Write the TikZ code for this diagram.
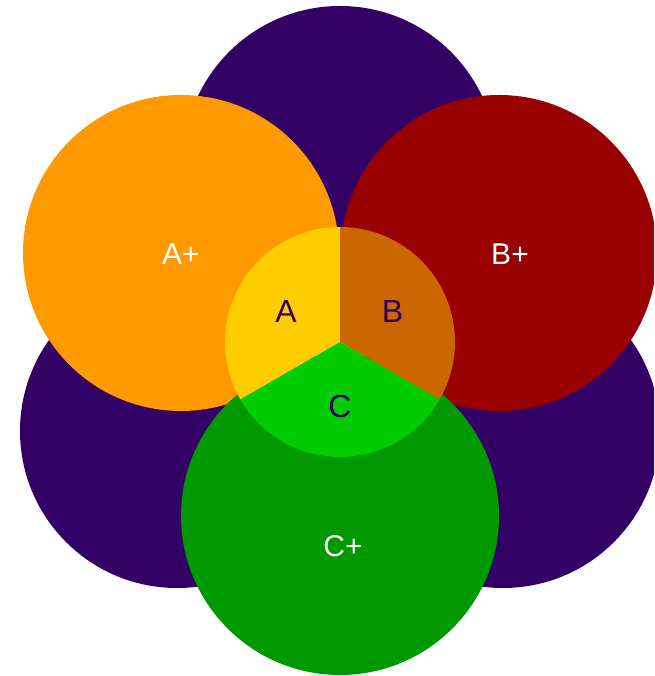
\documentclass[tikz,border=0pt]{standalone}
\usepackage{fontspec}
\setmainfont{Liberation Sans}
\definecolor{cPurple}{HTML}{330066}
\definecolor{cOrange}{HTML}{FF9900}
\definecolor{cRed}{HTML}{990000}
\definecolor{cGreen}{HTML}{009900}
\definecolor{cYellow}{HTML}{FFCC00}
\definecolor{cDarkOrange}{HTML}{CC6600}
\definecolor{cLime}{HTML}{00CC00}
\begin{document}
\begin{tikzpicture}[x=1pt,y=1pt,
  blob/.style={circle,inner sep=0pt,outer sep=0pt,draw=none},
  biglabel/.style={text=white,font=\fontsize{30}{36}\selectfont,inner sep=0pt},
  smalllabel/.style={text=cPurple,font=\fontsize{32}{38}\selectfont,inner sep=0pt}]
\useasboundingbox (0,0) rectangle (654,676);
\clip (0,0) rectangle (654,676);
% purple petals
\node[blob,fill=cPurple,minimum size=314pt] (ptop) at (340,513) {};
\node[blob,fill=cPurple,minimum size=314pt] (pleft) at (177,245) {};
\node[blob,fill=cPurple,minimum size=314pt] (pright) at (503,245) {};
% coloured circles
\node[blob,fill=cOrange,minimum size=316pt] (aplus) at (181,423) {};
\node[blob,fill=cRed,minimum size=316pt] (bplus) at (499,423) {};
\node[blob,fill=cGreen,minimum size=318pt] (cplus) at (340,160) {};
% centre circle with sectors
\node[blob,minimum size=230pt] (ctr) at (340,334) {};
\fill[cYellow] (ctr.center) -- (ctr.90) arc[start angle=90,end angle=210,radius=115pt] -- cycle;
\fill[cDarkOrange] (ctr.center) -- (ctr.-30) arc[start angle=-30,end angle=90,radius=115pt] -- cycle;
\fill[cLime] (ctr.center) -- (ctr.210) arc[start angle=210,end angle=330,radius=115pt] -- cycle;
% labels
\node[biglabel] (laplus) at (181,422) {A+};
\node[biglabel] (lbplus) at (510,422) {B+};
\node[biglabel] (lcplus) at (343,130) {C+};
\node[smalllabel] (la) at (286,364.5) {A};
\node[smalllabel] (lb) at (392.5,364.5) {B};
\node[smalllabel] (lc) at (340,269.5) {C};
\end{tikzpicture}
\end{document}
